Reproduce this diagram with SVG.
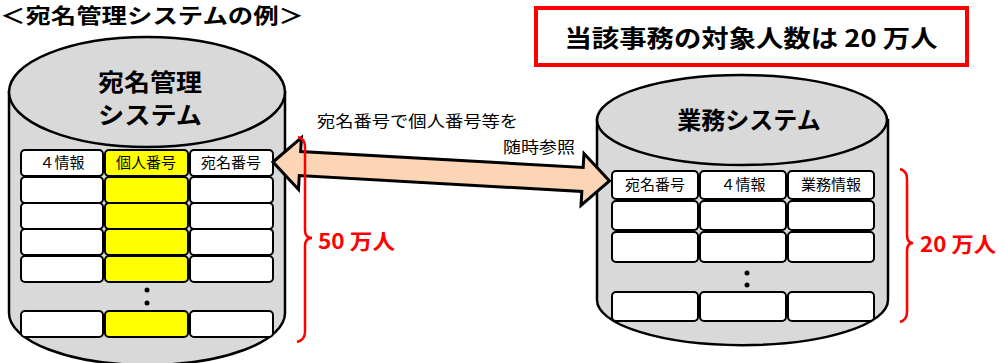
<svg xmlns="http://www.w3.org/2000/svg" width="999" height="363" viewBox="0 0 999 363">
<style>
text{font-family:"Noto Sans CJK JP","Noto Sans",sans-serif;fill:#000}
.cyl{fill:#D9D9D9;stroke:#000;stroke-width:2.5}
.cell{fill:#fff;stroke:#000;stroke-width:2}
.ycell{fill:#FFFF00;stroke:#000;stroke-width:2}
.hd{font-size:15px;text-anchor:middle}
.big{font-weight:bold;text-anchor:middle}
.red{fill:#FF0000;font-weight:bold;font-size:21px}
.brace{fill:none;stroke:#FF0000;stroke-width:2.5}
.dot{fill:#000}
</style>
<rect width="999" height="363" fill="#fff"/>
<g id="title">
<text x="0" y="23" font-size="21" font-weight="bold" textLength="304" lengthAdjust="spacingAndGlyphs">＜宛名管理システムの例＞</text>
</g>
<g id="note">
<rect x="536" y="8" width="431" height="57" fill="#fff" stroke="#FF0000" stroke-width="4"/>
<text x="751" y="47" font-size="24" font-weight="bold" text-anchor="middle" textLength="373" lengthAdjust="spacingAndGlyphs">当該事務の対象人数は 20 万人</text>
</g>
<g id="atena-system">
<path class="cyl" d="M9,92 L9,313 A138,52 0 0 0 285,313 L285,92 Z"/>
<ellipse class="cyl" cx="147" cy="92" rx="138" ry="55"/>
<text class="big" x="150" y="91" font-size="24" textLength="104" lengthAdjust="spacingAndGlyphs">宛名管理</text>
<text class="big" x="150" y="124" font-size="24" textLength="104" lengthAdjust="spacingAndGlyphs">システム</text>
<rect class="cell" x="21" y="150" width="82" height="26" rx="4"/>
<rect class="ycell" x="105" y="150" width="83" height="26" rx="4"/>
<rect class="cell" x="190" y="150" width="83" height="26" rx="4"/>
<text class="hd" x="62" y="168">４情報</text>
<text class="hd" x="146" y="168">個人番号</text>
<text class="hd" x="231" y="168">宛名番号</text>
<rect class="cell" x="21" y="177" width="82" height="26" rx="4"/>
<rect class="ycell" x="105" y="177" width="83" height="26" rx="4"/>
<rect class="cell" x="190" y="177" width="83" height="26" rx="4"/>
<rect class="cell" x="21" y="203" width="82" height="26" rx="4"/>
<rect class="ycell" x="105" y="203" width="83" height="26" rx="4"/>
<rect class="cell" x="190" y="203" width="83" height="26" rx="4"/>
<rect class="cell" x="21" y="229" width="82" height="26" rx="4"/>
<rect class="ycell" x="105" y="229" width="83" height="26" rx="4"/>
<rect class="cell" x="190" y="229" width="83" height="26" rx="4"/>
<rect class="cell" x="21" y="256" width="82" height="26" rx="4"/>
<rect class="ycell" x="105" y="256" width="83" height="26" rx="4"/>
<rect class="cell" x="190" y="256" width="83" height="26" rx="4"/>
<circle class="dot" cx="147" cy="290" r="2.5"/>
<circle class="dot" cx="147" cy="303" r="2.5"/>
<rect class="cell" x="21" y="311" width="82" height="26" rx="4"/>
<rect class="ycell" x="105" y="311" width="83" height="26" rx="4"/>
<rect class="cell" x="190" y="311" width="83" height="26" rx="4"/>
</g>
<g id="gyomu-system">
<path class="cyl" d="M597,120 L597,300 A145,45 0 0 0 888,300 L888,120 Z"/>
<ellipse class="cyl" cx="742" cy="120" rx="145" ry="45"/>
<text class="big" x="749" y="129" font-size="24">業務システム</text>
<rect class="cell" x="612" y="171" width="86" height="28" rx="4"/>
<rect class="cell" x="700" y="171" width="86" height="28" rx="4"/>
<rect class="cell" x="788" y="171" width="86" height="28" rx="4"/>
<text class="hd" x="655" y="190">宛名番号</text>
<text class="hd" x="743" y="190">４情報</text>
<text class="hd" x="831" y="190">業務情報</text>
<rect class="cell" x="612" y="201" width="86" height="29" rx="4"/>
<rect class="cell" x="700" y="201" width="86" height="29" rx="4"/>
<rect class="cell" x="788" y="201" width="86" height="29" rx="4"/>
<rect class="cell" x="612" y="232" width="86" height="30" rx="4"/>
<rect class="cell" x="700" y="232" width="86" height="30" rx="4"/>
<rect class="cell" x="788" y="232" width="86" height="30" rx="4"/>
<circle class="dot" cx="747" cy="273" r="2.5"/>
<circle class="dot" cx="747" cy="285" r="2.5"/>
<rect class="cell" x="612" y="292" width="86" height="29" rx="4"/>
<rect class="cell" x="700" y="292" width="86" height="29" rx="4"/>
<rect class="cell" x="788" y="292" width="86" height="29" rx="4"/>
</g>
<g id="connectors">
<g transform="translate(273,162) rotate(3.23)">
<path d="M0,0 L27,-26 L27,-12 L310,-12 L310,-26 L337,0 L310,26 L310,12 L27,12 L27,26 Z" fill="#FBD5B5" stroke="#000" stroke-width="3" stroke-linejoin="miter"/>
</g>
<text x="317" y="127" font-size="16" textLength="201" lengthAdjust="spacingAndGlyphs">宛名番号で個人番号等を</text>
<text x="503" y="153" font-size="16" textLength="72" lengthAdjust="spacingAndGlyphs">随時参照</text>
</g>
<g id="brace-50">
<path class="brace" d="M298,137 Q305,139 305,147 L305,230 Q305,238 312,238 Q305,238 305,246 L305,332 Q305,340 297,342"/>
<text class="red" x="318" y="249" textLength="77" lengthAdjust="spacingAndGlyphs">50 万人</text>
</g>
<g id="brace-20">
<path class="brace" d="M900,169 Q907,171 907,179 L907,235 Q907,243 913,243 Q907,243 907,251 L907,312 Q907,320 900,322"/>
<text class="red" x="920" y="252" textLength="76" lengthAdjust="spacingAndGlyphs">20 万人</text>
</g>
</svg>
